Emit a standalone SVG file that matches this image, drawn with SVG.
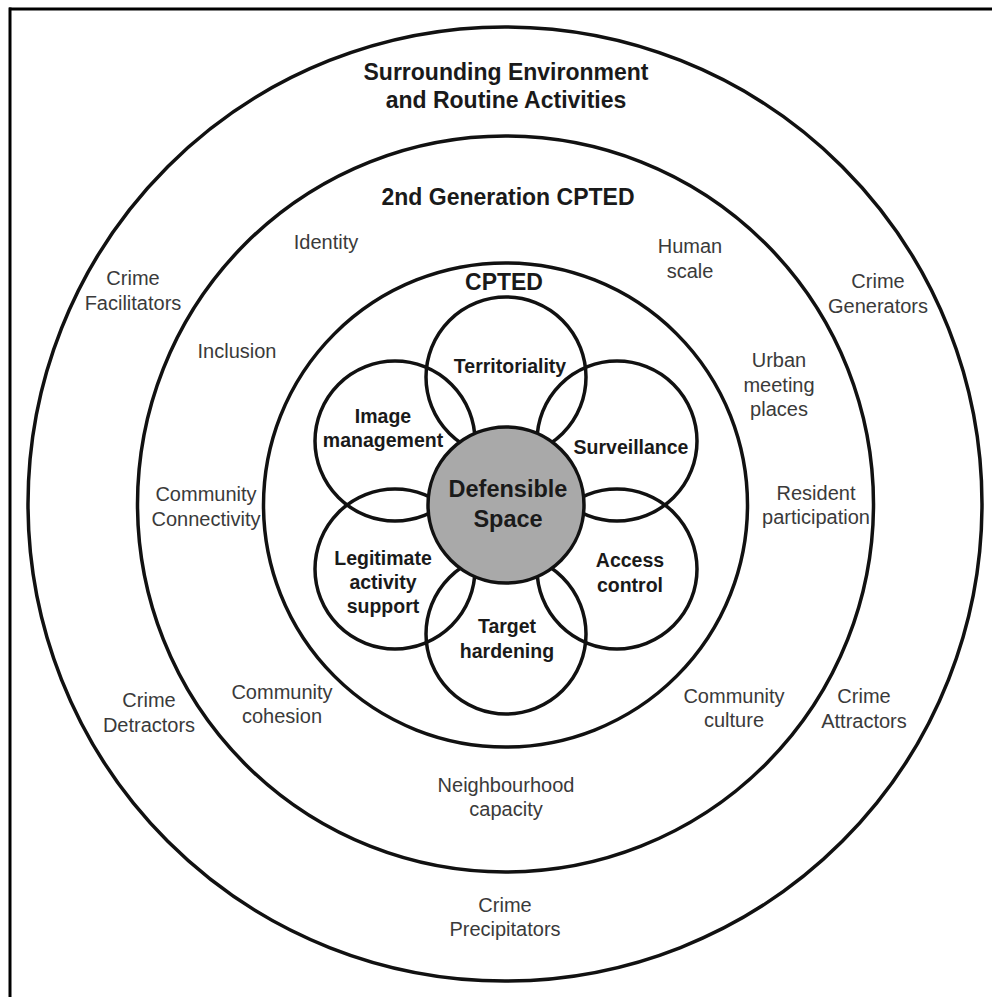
<svg xmlns="http://www.w3.org/2000/svg" width="992" height="997" viewBox="0 0 992 997">
<style>
.ring{fill:none;stroke:#111;stroke-width:3.5}
.petal{fill:none;stroke:#111;stroke-width:3.5}
.core{fill:#a9a9a9;stroke:#111;stroke-width:3.5}
.title{font-family:"Liberation Sans",Arial,sans-serif;font-weight:bold;font-size:23px;fill:#1a1a1a;text-anchor:middle}
.pl{font-family:"Liberation Sans",Arial,sans-serif;font-weight:bold;font-size:19.5px;fill:#1a1a1a;text-anchor:middle}
.lab{font-family:"Liberation Sans",Arial,sans-serif;font-size:20px;fill:#3a3a3a;text-anchor:middle}
</style>
<rect width="992" height="997" fill="#fff"/>
<g id="frame">
<line x1="9" y1="9" x2="992" y2="9" stroke="#000" stroke-width="3"/>
<line x1="10" y1="7.5" x2="10" y2="997" stroke="#000" stroke-width="3"/>
</g>
<g id="surrounding">
<circle class="ring" cx="505" cy="504" r="477"/>
<text class="title" x="506" y="80">Surrounding Environment</text>
<text class="title" x="506" y="108">and Routine Activities</text>
<text class="lab" x="133" y="285">Crime</text>
<text class="lab" x="133" y="310">Facilitators</text>
<text class="lab" x="878" y="288">Crime</text>
<text class="lab" x="878" y="313">Generators</text>
<text class="lab" x="149" y="707">Crime</text>
<text class="lab" x="149" y="732">Detractors</text>
<text class="lab" x="864" y="703">Crime</text>
<text class="lab" x="864" y="728">Attractors</text>
<text class="lab" x="505" y="912">Crime</text>
<text class="lab" x="505" y="936">Precipitators</text>
</g>
<g id="second-generation">
<circle class="ring" cx="505.5" cy="504" r="368"/>
<text class="title" x="508" y="205">2nd Generation CPTED</text>
<text class="lab" x="326" y="249">Identity</text>
<text class="lab" x="690" y="253">Human</text>
<text class="lab" x="690" y="278">scale</text>
<text class="lab" x="237" y="358">Inclusion</text>
<text class="lab" x="779" y="367">Urban</text>
<text class="lab" x="779" y="392">meeting</text>
<text class="lab" x="779" y="416">places</text>
<text class="lab" x="206" y="501">Community</text>
<text class="lab" x="206" y="526">Connectivity</text>
<text class="lab" x="816" y="500">Resident</text>
<text class="lab" x="816" y="524">participation</text>
<text class="lab" x="282" y="699">Community</text>
<text class="lab" x="282" y="723">cohesion</text>
<text class="lab" x="734" y="703">Community</text>
<text class="lab" x="734" y="727">culture</text>
<text class="lab" x="506" y="792">Neighbourhood</text>
<text class="lab" x="506" y="816">capacity</text>
</g>
<g id="cpted">
<circle class="ring" cx="505.5" cy="505" r="242"/>
<text class="title" x="504" y="290">CPTED</text>
</g>
<g id="territoriality">
<circle class="petal" cx="506" cy="377" r="80"/>
<text class="pl" x="510" y="373">Territoriality</text>
</g>
<g id="image-management">
<circle class="petal" cx="395" cy="441" r="80"/>
<text class="pl" x="383" y="423">Image</text>
<text class="pl" x="383" y="447">management</text>
</g>
<g id="surveillance">
<circle class="petal" cx="617" cy="441" r="80"/>
<text class="pl" x="631" y="454">Surveillance</text>
</g>
<g id="access-control">
<circle class="petal" cx="617" cy="569" r="80"/>
<text class="pl" x="630" y="567">Access</text>
<text class="pl" x="630" y="592">control</text>
</g>
<g id="target-hardening">
<circle class="petal" cx="506" cy="634" r="80"/>
<text class="pl" x="507" y="633">Target</text>
<text class="pl" x="507" y="658">hardening</text>
</g>
<g id="legitimate-activity-support">
<circle class="petal" cx="395" cy="569" r="80"/>
<text class="pl" x="383" y="565">Legitimate</text>
<text class="pl" x="383" y="589">activity</text>
<text class="pl" x="383" y="613">support</text>
</g>
<g id="defensible-space">
<circle class="core" cx="506" cy="505" r="78"/>
<text class="title" x="508" y="497" style="font-size:23.5px">Defensible</text>
<text class="title" x="508" y="527" style="font-size:23.5px">Space</text>
</g>
</svg>
